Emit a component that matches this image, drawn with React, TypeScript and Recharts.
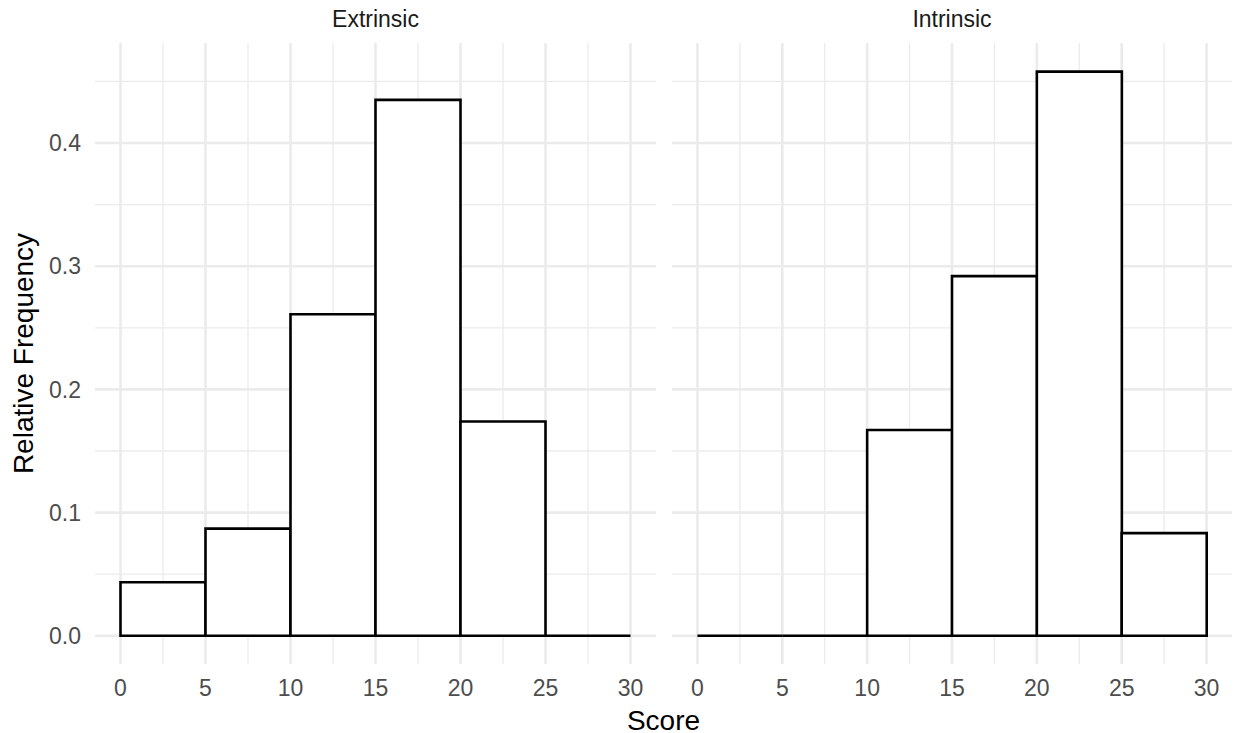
import React from "react";
import {
  BarChart,
  Bar,
  XAxis,
  YAxis,
  CartesianGrid,
} from "recharts";

// ---- data ----
const bins = ["0-5", "5-10", "10-15", "15-20", "20-25", "25-30"];
const binMids = [2.5, 7.5, 12.5, 17.5, 22.5, 27.5];
const extrinsic = [0.0435, 0.087, 0.261, 0.435, 0.174, 0];
const intrinsic = [0, 0, 0.167, 0.292, 0.458, 0.0833];
const panelTitles = ["Extrinsic", "Intrinsic"];
const xTicks = [0, 5, 10, 15, 20, 25, 30];
const xMinor = [2.5, 7.5, 12.5, 17.5, 22.5, 27.5];
const yTicks = [0, 0.1, 0.2, 0.3, 0.4];
const yMinor = [0.05, 0.15, 0.25, 0.35, 0.45];
const xDomain: [number, number] = [-1.5, 31.5];
const yDomain: [number, number] = [-0.0229, 0.4812];

const makeRows = (vals: number[]) =>
  bins.map((b, i) => ({ bin: b, mid: binMids[i], value: vals[i] }));

// ---- layout ----
const W = 1236;
const H = 733;
const PLOT_TOP = 43;
const PLOT_BOTTOM = 664;
const X_AXIS_H = 45;
const GRID = "#EBEBEB";
const FONT = "'Liberation Sans', Arial, Helvetica, sans-serif";
const TICK_FS = 23;
const TITLE_FS = 28;

const HistShape = (props: any) => {
  const { x, y, width, height } = props;
  if (x == null || y == null) return null;
  const top = y;
  const bottom = y + height;
  return (
    <path
      d={`M${x},${bottom}L${x},${top}L${x + width},${top}L${x + width},${bottom}Z`}
      fill="#FFFFFF"
      stroke="#000000"
      strokeWidth={2.6}
    />
  );
};

type PanelProps = {
  vals: number[];
  left: number;
  width: number;
  marginLeft: number;
  marginRight: number;
  showY: boolean;
  yWidth: number;
};

const Panel = ({ vals, left, width, marginLeft, marginRight, showY, yWidth }: PanelProps) => {
  const plotW = width - marginLeft - marginRight - (showY ? yWidth : 0);
  const pad = (plotW * 1.5) / 33;
  return (
    <div style={{ position: "absolute", left, top: 0 }}>
      <BarChart
        width={width}
        height={H}
        data={makeRows(vals)}
        margin={{
          top: PLOT_TOP,
          right: marginRight,
          left: marginLeft,
          bottom: H - PLOT_BOTTOM - X_AXIS_H,
        }}
        barCategoryGap={0}
        barGap={0}
      >
        <CartesianGrid
          xAxisId="num"
          stroke={GRID}
          strokeWidth={1.3}
          verticalValues={xMinor}
          horizontalValues={yMinor}
          syncWithTicks
        />
        <CartesianGrid xAxisId="num" stroke={GRID} strokeWidth={2.6} syncWithTicks />
        <XAxis
          xAxisId="cat"
          type="category"
          dataKey="bin"
          hide
          height={0}
          orientation="top"
          padding={{ left: pad, right: pad }}
        />
        <XAxis
          xAxisId="num"
          type="number"
          dataKey="mid"
          domain={xDomain}
          ticks={xTicks}
          allowDataOverflow
          axisLine={false}
          tickLine={false}
          tickSize={0}
          tickMargin={16}
          height={X_AXIS_H}
          tick={{ fill: "#4D4D4D", fontSize: TICK_FS }}
          interval={0}
        />
        <YAxis
          type="number"
          domain={yDomain}
          ticks={yTicks}
          allowDataOverflow
          hide={!showY}
          width={showY ? yWidth : 0}
          axisLine={false}
          tickLine={false}
          tickSize={0}
          tickMargin={14}
          tick={{ fill: "#4D4D4D", fontSize: TICK_FS }}
          tickFormatter={(v: number) => v.toFixed(1)}
          interval={0}
        />
        <Bar
          xAxisId="cat"
          dataKey="value"
          shape={HistShape}
          isAnimationActive={false}
        />
      </BarChart>
    </div>
  );
};

export default function App() {
  return (
    <div
      style={{
        position: "absolute",
        left: 0,
        top: 0,
        width: W,
        height: H,
        background: "#FFFFFF",
        fontFamily: FONT,
        overflow: "hidden",
      }}
    >
      <Panel vals={extrinsic} left={0} width={660} marginLeft={0} marginRight={4} showY yWidth={95} />
      <Panel vals={intrinsic} left={668} width={568} marginLeft={4} marginRight={4} showY={false} yWidth={0} />
      <svg
        width={W}
        height={H}
        style={{ position: "absolute", left: 0, top: 0, pointerEvents: "none" }}
      >
        <text x={375.5} y={27} textAnchor="middle" fontSize={TICK_FS} fill="#1A1A1A" fontFamily={FONT}>
          {panelTitles[0]}
        </text>
        <text x={952} y={27} textAnchor="middle" fontSize={TICK_FS} fill="#1A1A1A" fontFamily={FONT}>
          {panelTitles[1]}
        </text>
        <text x={663.5} y={730} textAnchor="middle" fontSize={TITLE_FS} fill="#000000" fontFamily={FONT}>
          Score
        </text>
        <text
          x={33}
          y={353.5}
          textAnchor="middle"
          fontSize={TITLE_FS}
          fill="#000000"
          fontFamily={FONT}
          transform="rotate(-90 33 353.5)"
        >
          Relative Frequency
        </text>
      </svg>
    </div>
  );
}
